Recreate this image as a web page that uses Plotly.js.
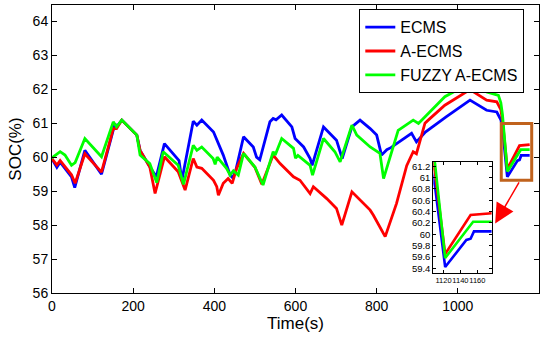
<!DOCTYPE html>
<html>
<head>
<meta charset="utf-8">
<script src="https://cdn.plot.ly/plotly-3.0.1.min.js"></script>
<style>html,body{margin:0;padding:0;background:#fff;}#chart{width:552px;height:337px;}</style>
</head>
<body>
<div id="chart"></div>
<script>
// ECMS (blue)
var tEcms = [0, 12, 20, 48, 56, 81, 122, 155, 160, 172, 209, 217, 241, 257, 277, 303, 313, 320, 348, 357, 369, 398, 406, 422, 439, 445, 452, 472, 496, 504, 512, 525, 537, 545, 552, 566, 591, 599, 620, 636, 641, 669, 701, 710, 715, 739, 759, 784, 800, 812, 825, 835, 886, 898, 920, 972, 1030, 1071, 1096, 1106, 1110, 1122, 1147, 1152, 1156, 1177];
var socEcms = [59.95, 59.7, 59.85, 59.42, 59.1, 60.2, 59.5, 60.98, 60.9, 61.09, 60.65, 60.2, 59.72, 59.42, 60.4, 60.05, 59.9, 59.32, 61.06, 60.94, 61.09, 60.74, 60.5, 60.06, 59.47, 59.4, 59.57, 60.6, 60.3, 60.0, 59.92, 60.55, 61.04, 61.14, 61.1, 61.24, 60.89, 60.55, 60.3, 59.96, 59.76, 60.89, 60.5, 60.16, 59.96, 60.89, 61.09, 60.84, 60.65, 60.06, 60.22, 60.28, 60.7, 60.45, 60.74, 61.19, 61.68, 61.38, 61.33, 61.1, 60.84, 59.42, 59.9, 59.92, 60.05, 60.05];

// A-ECMS (red)
var tAecms = [0, 12, 20, 48, 57, 81, 122, 151, 159, 172, 209, 217, 241, 254, 277, 311, 328, 348, 357, 369, 398, 406, 410, 422, 434, 444, 455, 472, 500, 517, 545, 562, 595, 611, 636, 644, 677, 701, 714, 739, 784, 792, 821, 849, 874, 890, 898, 919, 927, 968, 1030, 1071, 1096, 1106, 1110, 1122, 1152, 1177];
var socAecms = [59.95, 59.77, 59.9, 59.48, 59.23, 60.1, 59.56, 60.84, 60.84, 61.09, 60.65, 60.2, 59.71, 58.93, 60.01, 59.57, 59.03, 59.96, 59.71, 59.67, 59.32, 59.13, 58.88, 59.23, 59.37, 59.23, 59.67, 60.11, 59.7, 59.2, 60.06, 59.81, 59.42, 59.32, 58.93, 59.13, 58.78, 58.49, 58.0, 58.98, 58.44, 58.29, 57.66, 58.64, 59.75, 60.16, 60.1, 61.0, 61.09, 61.53, 61.99, 61.68, 61.63, 61.4, 61.08, 59.65, 60.34, 60.37];

// FUZZY A-ECMS (green)
var tFuzzy = [0, 20, 32, 48, 57, 81, 122, 151, 159, 172, 209, 217, 241, 258, 274, 311, 324, 348, 357, 369, 397, 402, 407, 430, 439, 447, 459, 472, 500, 520, 545, 550, 566, 595, 600, 606, 636, 642, 669, 697, 710, 739, 751, 784, 808, 817, 853, 866, 890, 903, 968, 1034, 1071, 1100, 1106, 1110, 1122, 1155, 1177];
var socFuzzy = [59.98, 60.16, 60.06, 59.76, 59.84, 60.55, 60.01, 61.04, 60.89, 61.09, 60.65, 60.06, 59.81, 59.25, 60.16, 59.76, 59.2, 60.35, 60.2, 60.3, 59.96, 59.79, 60.0, 59.67, 59.47, 59.6, 59.47, 60.11, 59.71, 59.18, 60.16, 60.06, 60.55, 60.26, 59.97, 60.05, 59.76, 59.47, 60.55, 60.16, 59.86, 60.94, 60.65, 60.3, 60.11, 59.37, 60.79, 60.89, 61.09, 60.99, 61.78, 62.21, 61.92, 61.82, 61.6, 61.25, 59.58, 60.22, 60.22];

var seriesNames = ['ECMS', 'A-ECMS', 'FUZZY A-ECMS'];
var seriesColors = ['#0000ff', '#ff0000', '#00ff00'];
var xTicks = [0, 200, 400, 600, 800, 1000, 1200];
var yTicks = [56, 57, 58, 59, 60, 61, 62, 63, 64];
var insetXTicks = [1120, 1140, 1160];
var insetYTicks = [59.4, 59.6, 59.8, 60, 60.2, 60.4, 60.6, 60.8, 61, 61.2];

var tArr = [tEcms, tAecms, tFuzzy];
var vArr = [socEcms, socAecms, socFuzzy];

var FONT = 'Liberation Sans, Arial, Helvetica, sans-serif';
var traces = [];
for (var i = 0; i < 3; i++) {
  traces.push({x: tArr[i], y: vArr[i], type: 'scatter', mode: 'lines', name: seriesNames[i],
    line: {color: seriesColors[i], width: 2.8}, xaxis: 'x', yaxis: 'y'});
}
for (var j = 0; j < 3; j++) {
  traces.push({x: tArr[j], y: vArr[j], type: 'scatter', mode: 'lines', name: seriesNames[j], showlegend: false,
    line: {color: seriesColors[j], width: 2.6}, xaxis: 'x2', yaxis: 'y2'});
}

var insetXRange = [1108, 1177];
var insetYRange = [59.31, 61.28];

var layout = {
  width: 552, height: 337,
  margin: {l: 52, r: 13, t: 5, b: 44},
  paper_bgcolor: '#fff', plot_bgcolor: '#fff',
  font: {family: FONT, color: '#000'},
  showlegend: true,
  legend: {x: 0.631, y: 0.985, xanchor: 'left', yanchor: 'top', bgcolor: '#fff',
    bordercolor: '#000', borderwidth: 1, font: {size: 16, family: FONT}, tracegroupgap: 0},
  xaxis: {range: [0, 1200], tickvals: xTicks, ticks: 'inside', ticklen: 5, tickcolor: '#000',
    showline: true, mirror: 'ticks', linecolor: '#000', linewidth: 1, showgrid: false, zeroline: false,
    tickfont: {size: 14}, title: {text: 'Time(s)', font: {size: 17}, standoff: 4}},
  yaxis: {range: [56, 64.48], tickvals: yTicks, ticks: 'inside', ticklen: 5, tickcolor: '#000',
    showline: true, mirror: 'ticks', linecolor: '#000', linewidth: 1, showgrid: false, zeroline: false,
    tickfont: {size: 14}, title: {text: 'SOC(%)', font: {size: 17}, standoff: 6}},
  xaxis2: {domain: [0.783, 0.903], anchor: 'y2', range: insetXRange, tickvals: insetXTicks, tickangle: 0,
    ticks: 'inside', ticklen: 3, tickcolor: '#000', showline: true, mirror: 'ticks', linecolor: '#000',
    linewidth: 1, showgrid: false, zeroline: false, tickfont: {size: 7.5}},
  yaxis2: {domain: [0.0684, 0.456], anchor: 'x2', range: insetYRange, tickvals: insetYTicks,
    ticks: 'inside', ticklen: 3, tickcolor: '#000', showline: true, mirror: 'ticks', linecolor: '#000',
    linewidth: 1, showgrid: false, zeroline: false, tickfont: {size: 9.5}},
  shapes: [
    {type: 'rect', xref: 'x2', yref: 'y2', layer: 'below', x0: insetXRange[0], x1: insetXRange[1],
      y0: insetYRange[0], y1: insetYRange[1], fillcolor: '#fff', line: {width: 0}},
    {type: 'rect', xref: 'x', yref: 'y', x0: 1107, x1: 1182, y0: 59.32, y1: 60.99,
      line: {color: '#c0621d', width: 3}, fillcolor: 'rgba(0,0,0,0)'}
  ],
  annotations: [
    {x: 1092, y: 58.05, xref: 'x', yref: 'y', ax: 1153, ay: 59.3, axref: 'x', ayref: 'y',
      text: '', showarrow: true, arrowcolor: '#ff0000', arrowwidth: 1.5, arrowhead: 2, arrowsize: 2.6, standoff: 0}
  ]
};

Plotly.newPlot('chart', traces, layout, {staticPlot: true, displayModeBar: false});
</script>
</body>
</html>
